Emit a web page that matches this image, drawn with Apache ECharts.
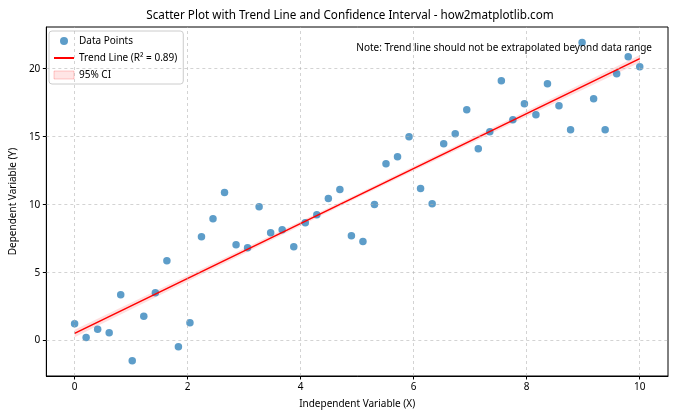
<!DOCTYPE html>
<html><head><meta charset="utf-8">
<script src="https://cdn.jsdelivr.net/npm/echarts@6/dist/echarts.min.js"></script>
<style>html,body{margin:0;padding:0;background:#fff}#c{width:700px;height:420px}</style>
</head><body><div id="c"></div>
<script>
const xValues = [0, 0.204, 0.408, 0.612, 0.816, 1.020, 1.224, 1.429, 1.633, 1.837, 2.041, 2.245, 2.449, 2.653, 2.857, 3.061, 3.265, 3.469, 3.673, 3.878, 4.082, 4.286, 4.490, 4.694, 4.898, 5.102, 5.306, 5.510, 5.714, 5.918, 6.122, 6.327, 6.531, 6.735, 6.939, 7.143, 7.347, 7.551, 7.755, 7.959, 8.163, 8.367, 8.571, 8.776, 8.980, 9.184, 9.388, 9.592, 9.796, 10];
const yValues = [1.25, 0.24, 0.83, 0.59, 3.38, -1.47, 1.79, 3.53, 5.88, -0.44, 1.32, 7.65, 8.97, 10.9, 7.06, 6.84, 9.85, 7.94, 8.16, 6.91, 8.68, 9.26, 10.45, 11.12, 7.72, 7.29, 10.01, 13.01, 13.53, 15.0, 11.2, 10.07, 14.49, 15.22, 16.99, 14.12, 15.37, 19.12, 16.25, 17.43, 16.62, 18.9, 17.28, 15.51, 21.93, 17.79, 15.51, 19.63, 20.88, 20.15];
const ciX = [0, 2.5, 5, 7.5, 10];
const ciHalfWidth = [0.28, 0.2, 0.15, 0.2, 0.28];
const xTicks = [0, 2, 4, 6, 8, 10];
const yTicks = [0, 5, 10, 15, 20];
const titleText = 'Scatter Plot with Trend Line and Confidence Interval - how2matplotlib.com';
const noteText = 'Note: Trend line should not be extrapolated beyond data range';
const legendNames = ['Data Points', 'Trend Line (R\u00b2 = 0.89)', '95% CI'];

// least squares fit from the data
const n = xValues.length;
const mx = xValues.reduce((a, b) => a + b, 0) / n;
const my = yValues.reduce((a, b) => a + b, 0) / n;
let sxy = 0, sxx = 0;
for (let i = 0; i < n; i++) { sxy += (xValues[i] - mx) * (yValues[i] - my); sxx += (xValues[i] - mx) ** 2; }
const slope = sxy / sxx, intercept = my - slope * mx;
const fit = x => intercept + slope * x;

const FONT = 'Noto Sans';
const scatterData = xValues.map((x, i) => [x, yValues[i]]);
const trendData = [[xValues[0], fit(xValues[0])], [xValues[n - 1], fit(xValues[n - 1])]];
const bandData = ciX.map((x, i) => [x, fit(x) - ciHalfWidth[i], fit(x) + ciHalfWidth[i]]);

const gridStyle = { color: '#b0b0b0', type: [3, 3], width: 0.8, opacity: 0.7 };
const gridLines = xTicks.map(v => ({ xAxis: v })).concat(yTicks.map(v => ({ yAxis: v })));

const chart = echarts.init(document.getElementById('c'), null, { renderer: 'canvas' });
chart.setOption({
  animation: false,
  textStyle: { fontFamily: FONT },
  title: { text: titleText, left: 'center', top: 5, textStyle: { fontSize: 11.7, fontWeight: 'normal', color: '#000', fontFamily: FONT } },
  grid: { left: 44, right: 32, top: 27, bottom: 44, show: true, borderColor: '#000', borderWidth: 1, backgroundColor: 'transparent' },
  xAxis: {
    type: 'value', min: -0.5, max: 10.5,
    name: 'Independent Variable (X)', nameLocation: 'middle', nameGap: 23,
    nameTextStyle: { fontSize: 10, color: '#000', fontFamily: FONT },
    axisLine: { show: true, onZero: false, lineStyle: { color: '#000' } },
    axisTick: { show: true, length: 3.5, customValues: xTicks, lineStyle: { color: '#000' } },
    axisLabel: { customValues: xTicks, fontSize: 10, color: '#000', margin: 6, fontFamily: FONT },
    splitLine: { show: false }
  },
  yAxis: {
    type: 'value', min: -2.6, max: 23.07,
    name: 'Dependent Variable (Y)', nameLocation: 'middle', nameGap: 24,
    nameTextStyle: { fontSize: 10, color: '#000', fontFamily: FONT },
    axisLine: { show: true, onZero: false, lineStyle: { color: '#000' } },
    axisTick: { show: true, length: 3.5, customValues: yTicks, lineStyle: { color: '#000' } },
    axisLabel: { customValues: yTicks, fontSize: 10, color: '#000', margin: 6, fontFamily: FONT },
    splitLine: { show: false }
  },
  legend: {
    orient: 'vertical', left: 49, top: 31,
    itemWidth: 20, itemHeight: 8, itemGap: 7,
    padding: [5, 6, 4, 4],
    borderColor: '#cccccc', borderWidth: 1, borderRadius: 3,
    backgroundColor: 'rgba(255,255,255,0.8)',
    textStyle: { fontSize: 10, color: '#000', fontFamily: FONT },
    data: [
      { name: legendNames[0], icon: 'circle' },
      { name: legendNames[1], itemStyle: { color: 'rgba(0,0,0,0)', borderWidth: 0, opacity: 0 } },
      { name: legendNames[2], icon: 'rect', itemStyle: { color: 'rgba(255,0,0,0.1)', borderColor: 'rgba(255,0,0,0.2)', borderWidth: 1 } }
    ]
  },
  graphic: [{
    type: 'text', right: 48, top: 43, z: 10,
    style: { text: noteText, fontSize: 10, fill: '#000', fontFamily: FONT }
  }],
  series: [
    {
      name: 'grid', type: 'line', data: [], z: 0, silent: true,
      markLine: { silent: true, symbol: 'none', label: { show: false }, lineStyle: gridStyle, data: gridLines, animation: false }
    },
    {
      name: legendNames[2], type: 'custom', z: 2, data: bandData,
      itemStyle: { color: 'rgba(255,0,0,0.12)' },
      renderItem: function (params, api) {
        if (params.dataIndex !== 0) return;
        const upper = bandData.map(d => api.coord([d[0], d[2]]));
        const lower = bandData.map(d => api.coord([d[0], d[1]])).reverse();
        return { type: 'polygon', shape: { points: upper.concat(lower) }, style: { fill: 'rgba(255,0,0,0.13)', stroke: 'none' } };
      },
      encode: { x: 0, y: [1, 2] }
    },
    {
      name: legendNames[0], type: 'scatter', z: 3, data: scatterData,
      symbolSize: 7.5, itemStyle: { color: '#1f77b4', opacity: 0.72 }
    },
    {
      name: legendNames[1], type: 'line', z: 4, data: trendData,
      symbol: 'none', lineStyle: { color: '#ff0000', width: 1.5 }, itemStyle: { color: '#ff0000' }
    }
  ]
});
</script></body></html>
